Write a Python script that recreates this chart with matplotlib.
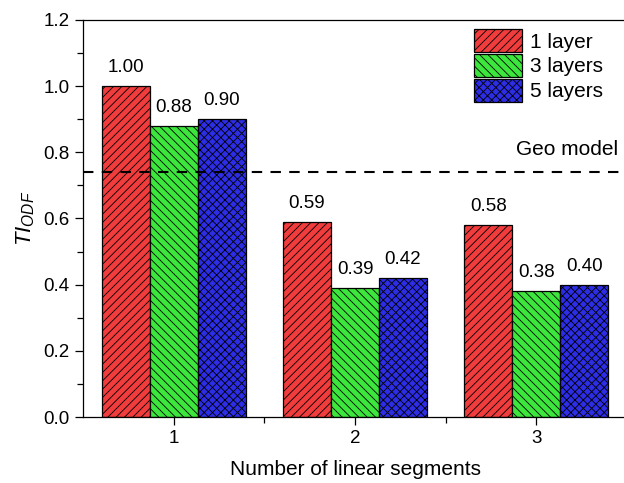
import matplotlib
matplotlib.use("Agg")
import matplotlib.pyplot as plt
import numpy as np
from matplotlib.ticker import MultipleLocator, FixedLocator, FormatStrFormatter

plt.rcParams['font.family'] = ['Liberation Sans', 'DejaVu Sans']
plt.rcParams['mathtext.fontset'] = 'custom'
plt.rcParams['mathtext.rm'] = 'Liberation Sans'
plt.rcParams['mathtext.it'] = 'Liberation Sans:italic'
plt.rcParams['hatch.linewidth'] = 0.6

segments = [1, 2, 3]
series_names = ['1 layer', '3 layers', '5 layers']
one_layer = [1.00, 0.59, 0.58]
three_layers = [0.88, 0.39, 0.38]
five_layers = [0.90, 0.42, 0.40]
geo_model = 0.74

colors = ['#F03C3C', '#3CE63C', '#2D2DE6']
hatches = ['////', '\\\\\\\\', 'xxxx']

fig = plt.figure(figsize=(6.24, 4.83), dpi=100)
W, H = 624, 483
ax = fig.add_axes([83 / W, 66 / H, (627 - 83) / W, 397 / H])

width = 0.265
offsets = [-width, 0, width]
x = np.array(segments, dtype=float)
for vals, name, c, h, off in zip([one_layer, three_layers, five_layers],
                                 series_names, colors, hatches, offsets):
    bars = ax.bar(x + off, vals, width, color=c, edgecolor='black',
                  hatch=h, linewidth=0.9, label=name, zorder=2)
    for b, v in zip(bars, vals):
        ax.text(b.get_x() + b.get_width() / 2, v + 0.03, f'{v:.2f}',
                ha='center', va='bottom', fontsize=13.5)

ax.axhline(geo_model, color='black', linestyle=(0, (5, 4)), linewidth=1.5, zorder=3)
ax.text(3.45, geo_model + 0.04, 'Geo model', ha='right', va='bottom', fontsize=15)

ax.set_xlim(0.5, 3.5)
ax.set_ylim(0, 1.2)
ax.xaxis.set_major_locator(FixedLocator(segments))
ax.xaxis.set_minor_locator(FixedLocator([1.5, 2.5]))
ax.yaxis.set_major_locator(MultipleLocator(0.2))
ax.yaxis.set_minor_locator(MultipleLocator(0.1))
ax.yaxis.set_major_formatter(FormatStrFormatter('%.1f'))
ax.tick_params(which='both', direction='out', top=False, right=False, labelsize=13.5)
ax.tick_params(which='major', length=6, width=0.9)
ax.tick_params(which='minor', length=4, width=0.9)
for s in ax.spines.values():
    s.set_linewidth(0.9)

ax.set_xlabel('Number of linear segments', fontsize=15, labelpad=9)
ax.set_ylabel('$TI_{ODF}$', fontsize=16, labelpad=5)

ax.legend(loc='upper right', bbox_to_anchor=(0.978, 1.008), frameon=False,
          fontsize=15, handlelength=2.3, handleheight=1.3,
          labelspacing=0.1, handletextpad=0.35, borderaxespad=0.2)

fig.savefig('out.png', dpi=100)
